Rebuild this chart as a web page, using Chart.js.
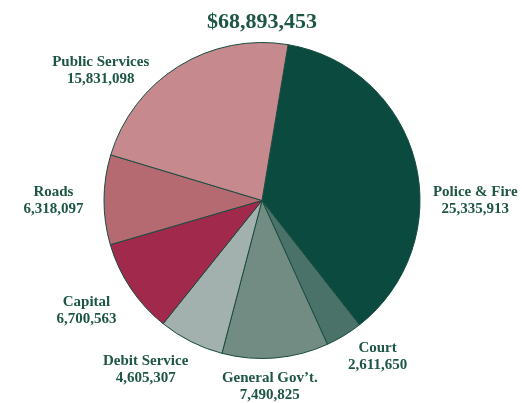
<!DOCTYPE html>
<html>
<head>
<meta charset="utf-8">
<script src="https://cdn.jsdelivr.net/npm/chart.js@4"></script>
<style>
html,body{margin:0;padding:0;background:#fff;}
#wrap{width:522px;height:403px;}
</style>
</head>
<body>
<div id="wrap"><canvas id="pieChart"></canvas></div>
<script>
// categories and values, clockwise from the top
const categories = ['Police & Fire','Court','General Gov\u2019t.','Debit Service','Capital','Roads','Public Services'];
const amounts = [25335913, 2611650, 7490825, 4605307, 6700563, 6318097, 15831098];
const totalLabel = '$68,893,453';

const sliceColors = ['#0b4a3e','#4a7268','#728c84','#a2b1ad','#a0294c','#b56970','#c5898e'];

// label placement: angle (deg, clockwise from top) and distance in radii
const labelPlace = [[90,1.35],[143.5,1.23],[177.6,1.18],[214.5,1.30],[238,1.31],[270,1.32],[308.8,1.31]];

const fmt = n => n.toLocaleString('en-US');

const labelPlugin = {
  id: 'sliceLabels',
  afterDraw(chart){
    const c = chart.ctx;
    const arc = chart.getDatasetMeta(0).data[0];
    const cx = arc.x, cy = arc.y, r = arc.outerRadius;
    c.save();
    c.fillStyle = '#1d5546';
    c.textAlign = 'center';
    c.textBaseline = 'middle';
    c.font = 'bold 22px "Liberation Serif"';
    c.fillText(totalLabel, cx, 22);
    c.font = 'bold 15px "Liberation Serif"';
    categories.forEach(function(name, i){
      const a = labelPlace[i][0] * Math.PI / 180;
      const d = labelPlace[i][1] * r;
      const x = cx + d * Math.sin(a);
      const y = cy - d * Math.cos(a);
      c.fillText(name, x, y - 8.5);
      c.fillText(fmt(amounts[i]), x, y + 8.5);
    });
    c.restore();
  }
};

new Chart(document.getElementById('pieChart'), {
  type: 'pie',
  data: {
    labels: categories,
    datasets: [{
      data: amounts,
      backgroundColor: sliceColors,
      borderColor: '#184a3f',
      borderWidth: 1
    }]
  },
  options: {
    responsive: true,
    maintainAspectRatio: false,
    animation: false,
    rotation: 9.5,
    layout: { padding: { top: 42, bottom: 44, left: 2, right: 0 } },
    plugins: {
      legend: { display: false },
      tooltip: { enabled: false }
    }
  },
  plugins: [labelPlugin]
});
</script>
</body>
</html>
